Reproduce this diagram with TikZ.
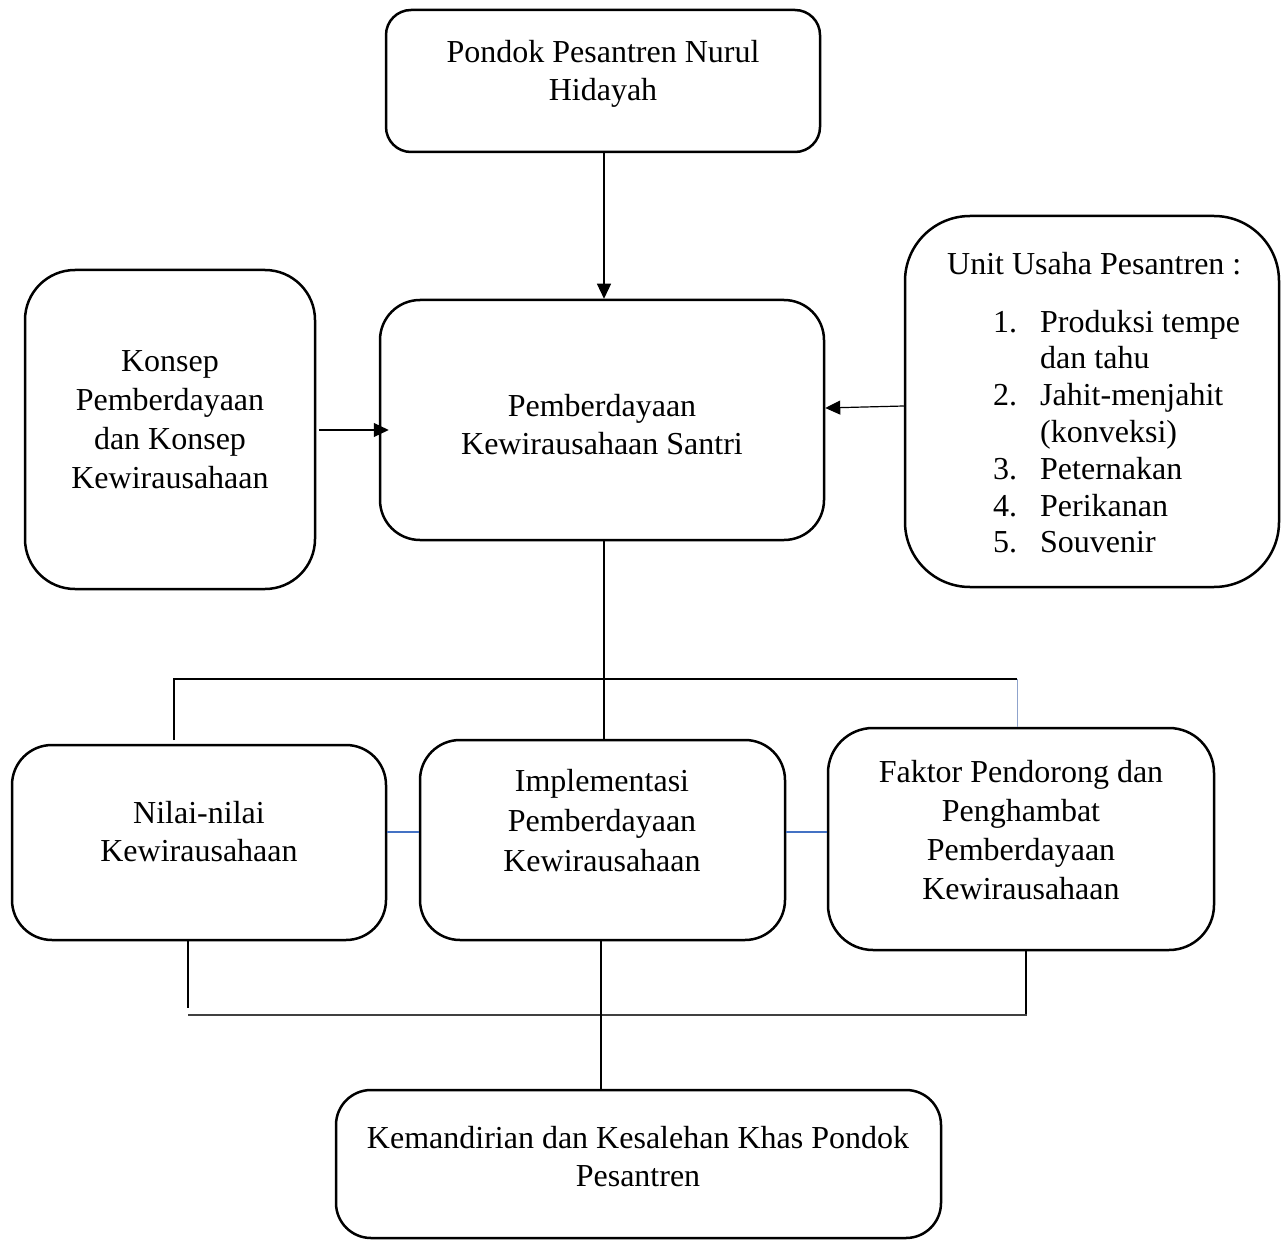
\documentclass[tikz,border=0pt]{standalone}
\usepackage{fontspec}
\setmainfont{Liberation Serif}
\usetikzlibrary{arrows.meta}
\newcommand\mlines[1]{\begin{tabular}[t]{@{}c@{}}#1\end{tabular}}
\definecolor{wordblue}{HTML}{4472C4}
\definecolor{paleblue}{HTML}{8FA3CC}
\begin{document}
\begin{tikzpicture}[x=1pt,y=-1pt,
  box/.style={draw,line width=2.5pt,rounded corners=#1,inner sep=0pt},
  txt/.style={font=\fontsize{32}{#1}\selectfont,anchor=base,inner sep=0pt},
  txt/.default=38,
  conn/.style={line width=1.2pt},
  arr/.style={line width=1.2pt,-{Triangle[length=15pt,width=14pt]}},
  blueln/.style={draw=wordblue,line width=1.3pt}
]
\useasboundingbox (0,0) rectangle (1282,1241);
% boxes
\node[box=25pt,minimum width=434pt,minimum height=142pt] (top) at (603,81) {};
\node[box=40pt,minimum width=444pt,minimum height=240pt] (ctr) at (602,420) {};
\node[box=50pt,minimum width=290pt,minimum height=319pt] (left) at (170,429.5) {};
\node[box=65pt,minimum width=374pt,minimum height=371pt] (right) at (1092,401.5) {};
\node[box=40pt,minimum width=374pt,minimum height=195pt] (nilai) at (199,842.5) {};
\node[box=40pt,minimum width=365pt,minimum height=200pt] (impl) at (602.5,840) {};
\node[box=45pt,minimum width=386pt,minimum height=222pt] (faktor) at (1021,839) {};
\node[box=35pt,minimum width=605pt,minimum height=148pt] (bottom) at (638.5,1164) {};
% texts
\node[txt] (ttop) at (603,63) {\mlines{Pondok Pesantren Nurul\\Hidayah}};
\node[txt] (tctr) at (602,416) {\mlines{Pemberdayaan\\Kewirausahaan Santri}};
\node[txt=39.3] (tleft) at (170,371) {\mlines{Konsep\\Pemberdayaan\\dan Konsep\\Kewirausahaan}};
\node[txt,anchor=base west] (tright) at (947,275) {Unit Usaha Pesantren :};
\node[txt=36.8,anchor=base west] (tlist) at (993,332) {\begin{tabular}[t]{@{}p{47pt}@{}l@{}}
1.&Produksi tempe\\ &dan tahu\\2.&Jahit-menjahit\\ &(konveksi)\\3.&Peternakan\\4.&Perikanan\\5.&Souvenir\end{tabular}};
\node[txt] (tnilai) at (199,823) {\mlines{Nilai-nilai\\Kewirausahaan}};
\node[txt=40] (timpl) at (602,791) {\mlines{Implementasi\\Pemberdayaan\\Kewirausahaan}};
\node[txt=39] (tfaktor) at (1021,782) {\mlines{Faktor Pendorong dan\\Penghambat\\Pemberdayaan\\Kewirausahaan}};
\node[txt] (tbottom) at (638,1148) {\mlines{Kemandirian dan Kesalehan Khas Pondok\\Pesantren}};
% arrows
\draw[arr] (top.south -| 604,0) -- (ctr.north -| 604,0);
\draw[arr,shorten >=-10pt] ([xshift=3pt]left.east |- 0,430) -- (ctr.west |- 0,430);
\draw[arr] (right.west |- 0,406) -- (ctr.east |- 0,408);
% tree
\coordinate (hl) at (174,679);
\coordinate (hr) at (1017,679);
\coordinate (hlend) at (174,740);
\draw[conn] (ctr.south -| 604,0) -- (impl.north -| 604,0);
\draw[conn] (hlend) -- (hl) -- (hr);
\draw[draw=paleblue,line width=1pt] (hr) -- (faktor.north -| hr);
\draw[blueln] (nilai.east |- 0,832) -- (impl.west |- 0,832);
\draw[blueln] (impl.east |- 0,832) -- (faktor.west |- 0,832);
\coordinate (bl) at (188,1015);
\coordinate (br) at (1027,1015);
\coordinate (blend) at (188,1008);
\draw[conn] (nilai.south -| bl) -- (blend);
\draw[conn] (faktor.south -| 1026,0) -- (1026,1015);
\draw[line width=1.6pt,draw=black!75] (bl) -- (br);
\draw[conn] (impl.south -| 601,0) -- (bottom.north -| 601,0);
\end{tikzpicture}
\end{document}
